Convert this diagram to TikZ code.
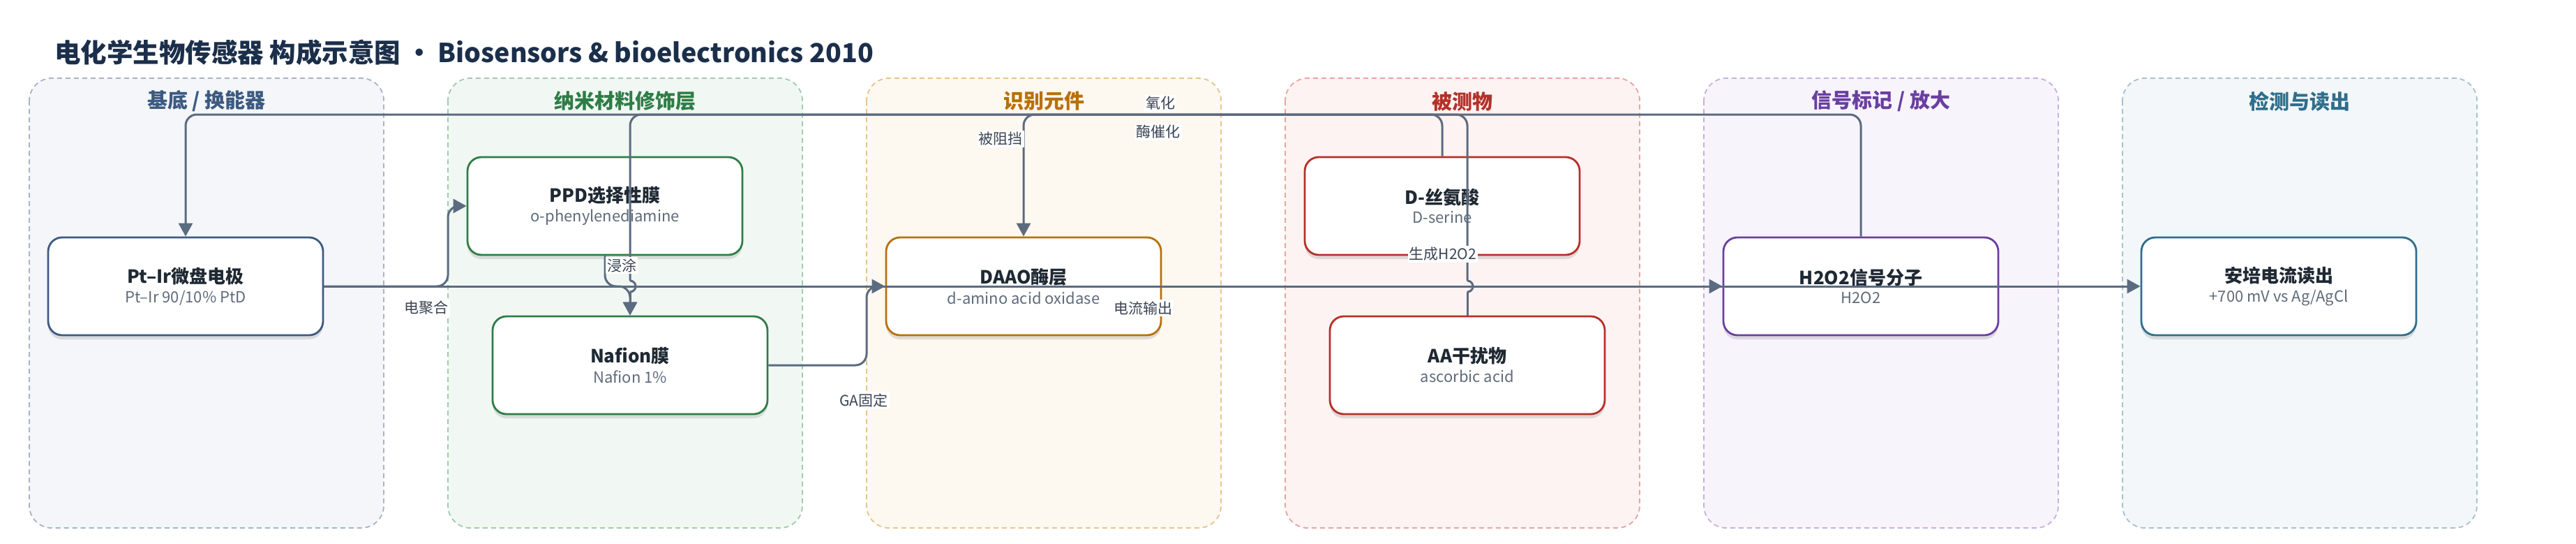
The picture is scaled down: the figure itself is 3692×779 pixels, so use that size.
\documentclass[tikz,border=0pt]{standalone}
\usepackage{fontspec}
\setmainfont{Noto Sans CJK SC}
\usetikzlibrary{arrows.meta,shadows}
\definecolor{edgec}{HTML}{5B6B80}
\definecolor{titlec}{HTML}{1B2F4B}
\definecolor{ntext}{HTML}{1F2933}
\definecolor{nsub}{HTML}{5F6B7A}
\definecolor{lblc}{HTML}{3A4452}
\definecolor{ca}{HTML}{3D5A80}\definecolor{fa}{HTML}{F4F6FA}\definecolor{ba}{HTML}{A7B3C6}
\definecolor{cb}{HTML}{2E7D46}\definecolor{fb}{HTML}{F1F8F3}\definecolor{bb}{HTML}{9FCBAE}
\definecolor{cc}{HTML}{B8700A}\definecolor{fc}{HTML}{FDF8F0}\definecolor{bc}{HTML}{E8C38E}
\definecolor{cd}{HTML}{B5302A}\definecolor{fd}{HTML}{FDF3F2}\definecolor{bd}{HTML}{E9A3A0}
\definecolor{ce}{HTML}{6A3FA0}\definecolor{fe}{HTML}{F7F4FB}\definecolor{be}{HTML}{C4B0E0}
\definecolor{cf}{HTML}{2F6E8C}\definecolor{ff}{HTML}{F3F7F9}\definecolor{bf}{HTML}{A4C2CE}
\begin{document}
\begin{tikzpicture}[x=1pt,y=-1pt,
  lanebox/.style={line width=1.8pt, dash pattern=on 7pt off 5pt, rounded corners=32pt},
  lanetitle/.style={font=\fontsize{29}{34}\selectfont\bfseries},
  nbox/.style={draw=#1, fill=white, line width=2.8pt, rounded corners=20pt,
    minimum width=394pt, minimum height=140pt, inner sep=0pt, align=center, text=ntext,
    drop shadow={shadow xshift=0pt, shadow yshift=-6pt, opacity=0.14, fill=black!80}},
  conn/.style={draw=edgec, line width=3pt, rounded corners=16pt},
  tip/.style={-{Triangle[length=19pt,width=20pt]}},
  elabel/.style={fill=white, inner sep=2pt, text=lblc, font=\fontsize{21}{24}\selectfont},
]
\useasboundingbox (0,0) rectangle (3692,779);
\fill[white] (0,0) rectangle (3692,779);

% title
\node[anchor=west, text=titlec, font=\fontsize{37.5}{44}\selectfont\bfseries, inner sep=0pt]
  (title) at (78,75) {电化学生物传感器 构成示意图\hspace{8pt}•\hspace{8pt}Biosensors \& bioelectronics 2010};

% lanes
\draw[lanebox, draw=ba, fill=fa] (42,112) rectangle (550,756);
\draw[lanebox, draw=bb, fill=fb] (642,112) rectangle (1150,756);
\draw[lanebox, draw=bc, fill=fc] (1242,112) rectangle (1750,756);
\draw[lanebox, draw=bd, fill=fd] (1842,112) rectangle (2350,756);
\draw[lanebox, draw=be, fill=fe] (2442,112) rectangle (2950,756);
\draw[lanebox, draw=bf, fill=ff] (3042,112) rectangle (3550,756);
\node[lanetitle, text=ca] (t1) at (296,145) {基底 / 换能器};
\node[lanetitle, text=cb] (t2) at (896,145) {纳米材料修饰层};
\node[lanetitle, text=cc] (t3) at (1496,145) {识别元件};
\node[lanetitle, text=cd] (t4) at (2096,145) {被测物};
\node[lanetitle, text=ce] (t5) at (2696,145) {信号标记 / 放大};
\node[lanetitle, text=cf] (t6) at (3296,145) {检测与读出};

% nodes
\newcommand{\nt}[2]{{\fontsize{26}{30}\selectfont\bfseries #1}\\[7pt]{\fontsize{22}{26}\selectfont\color{nsub}#2}}
\node[nbox=ca] (pt) at (266,410) {\nt{Pt–Ir微盘电极}{Pt–Ir 90/10\% PtD}};
\node[nbox=cb] (ppd) at (867,295) {\nt{PPD选择性膜}{o-phenylenediamine}};
\node[nbox=cb] (naf) at (903,523) {\nt{Nafion膜}{Nafion 1\%}};
\node[nbox=cc] (daao) at (1467,410) {\nt{DAAO酶层}{d-amino acid oxidase}};
\node[nbox=cd] (dser) at (2067,295) {\nt{D-丝氨酸}{D-serine}};
\node[nbox=cd] (aa) at (2103,523) {\nt{AA干扰物}{ascorbic acid}};
\node[nbox=ce] (h2o2) at (2667,410) {\nt{H2O2信号分子}{H2O2}};
\node[nbox=cf] (ro) at (3266,410) {\nt{安培电流读出}{+700 mV vs Ag/AgCl}};

% connectors
\draw[conn,tip] (pt.east) -- (ro.west);
\draw[conn,tip] (pt.east) -- (642,410) |- (ppd.west);
\draw[conn,tip] (ppd.south) -- (867,410) -| (naf.north);
\draw[conn,tip] (naf.east) -| (1242,410) -- (daao.west);
\draw[conn,tip] (dser.north) -- (2067,164) -| (daao.north);
\draw[conn,tip] (daao.east) -- (h2o2.west);
\draw[conn,tip] (h2o2.north) -- (2667,164) -| (pt.north);
% AA -> Nafion with line hops
\draw[conn] (aa.north) -- (2103,418);
\draw[conn] (2103,418) arc[start angle=90, end angle=-90, radius=8];
\draw[conn] (2103,402) -- (2103,164) -- (903,164) -- (903,402);
\draw[conn] (903,402) arc[start angle=-90, end angle=90, radius=8];
\draw[conn,tip] (903,418) -- (naf.north);

% labels
\node[elabel] (l1) at (611,441) {电聚合};
\node[elabel] (l2) at (891,380) {浸涂};
\node[elabel] (l3) at (1238,573) {GA固定};
\node[elabel] (l4) at (1434,199) {被阻挡};
\node[elabel] (l5) at (1663,148) {氧化};
\node[elabel] (l6) at (1660,189) {酶催化};
\node[elabel] (l7) at (1638,441) {电流输出};
\node[elabel] (l8) at (2068,364) {生成H2O2};
\end{tikzpicture}
\end{document}
